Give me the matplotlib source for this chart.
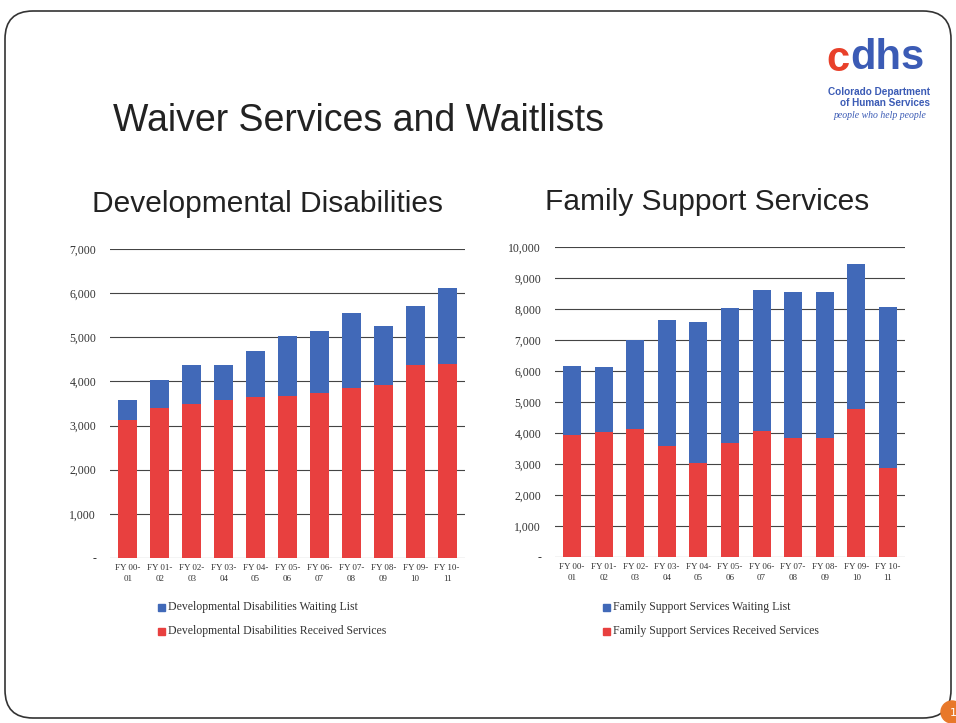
import matplotlib.pyplot as plt
from matplotlib.patches import FancyBboxPatch, Circle, Rectangle

# ---- data ----
fy_labels = ["FY 00-\n01", "FY 01-\n02", "FY 02-\n03", "FY 03-\n04", "FY 04-\n05", "FY 05-\n06",
             "FY 06-\n07", "FY 07-\n08", "FY 08-\n09", "FY 09-\n10", "FY 10-\n11"]

dd_received = [3130, 3390, 3500, 3590, 3640, 3660, 3730, 3840, 3910, 4380, 4390]
dd_total = [3590, 4040, 4380, 4380, 4680, 5020, 5140, 5540, 5250, 5710, 6110]
dd_waiting = [t - r for t, r in zip(dd_total, dd_received)]

fss_received = [3940, 4030, 4130, 3580, 3030, 3680, 4070, 3840, 3840, 4770, 2870]
fss_total = [6160, 6130, 7000, 7650, 7590, 8030, 8610, 8560, 8540, 9450, 8070]
fss_waiting = [t - r for t, r in zip(fss_total, fss_received)]

BLUE = "#4169B8"
RED = "#E8403F"
serif = "Liberation Serif"
sans = "Liberation Sans"

fig = plt.figure(figsize=(9.56, 7.23), dpi=100)

# slide background / border drawn in pixel space
bg = fig.add_axes([0, 0, 1, 1])
bg.set_xlim(0, 956)
bg.set_ylim(723, 0)
bg.axis("off")
bg.add_patch(FancyBboxPatch((5, 11), 946, 707, boxstyle="round,pad=0,rounding_size=28",
                            fill=False, edgecolor="#333333", linewidth=1.2))
bg.add_patch(Circle((952, 712), 11, color="#E8782A", zorder=3))
bg.text(953, 713, "1", color="white", fontsize=8, ha="center", va="center", zorder=4)

# titles
bg.text(113, 121, "Waiver Services and Waitlists", fontsize=27, family=sans,
        color="#222222", va="center", ha="left")
bg.text(92, 204, "Developmental Disabilities", fontsize=21.5, family=sans,
        color="#222222", va="center", ha="left")
bg.text(545, 202, "Family Support Services", fontsize=21.5, family=sans,
        color="#222222", va="center", ha="left")

# logo
bg.text(826, 60, "c", fontsize=30, fontweight="bold", family=sans, color="#E8402A",
        va="center", ha="left")
bg.text(850, 58, "dhs", fontsize=30, fontweight="bold", family=sans, color="#3B5BB5",
        va="center", ha="left")
bg.text(930, 92, "Colorado Department", fontsize=7.2, fontweight="bold", family=sans,
        color="#3B5BB5", ha="right", va="center")
bg.text(930, 103, "of Human Services", fontsize=7.2, fontweight="bold", family=sans,
        color="#3B5BB5", ha="right", va="center")
bg.text(926, 116, "people who help people", fontsize=7, style="italic", family=serif,
        color="#3B5BB5", ha="right", va="center")


def thousands(v):
    return "-" if v == 0 else f"{v:,}"


def draw_chart(rect, received, waiting, ymax, width, xpad, legend_names, legend_x):
    ax = fig.add_axes(rect)
    x = list(range(len(fy_labels)))
    ax.bar(x, received, width=width, color=RED, zorder=2)
    ax.bar(x, waiting, width=width, bottom=received, color=BLUE, zorder=2)
    ax.set_ylim(0, ymax)
    ax.set_xlim(-xpad, len(x) - 1 + xpad)
    ticks = list(range(0, ymax + 1, 1000))
    ax.set_yticks(ticks)
    ax.set_yticklabels([thousands(t) for t in ticks], fontsize=8.5, family=serif,
                       color="#333333")
    ax.set_xticks(x)
    ax.set_xticklabels(fy_labels, fontsize=6.5, family=serif, linespacing=1.5,
                       color="#333333")
    ax.tick_params(length=0, pad=10)
    ax.tick_params(axis="x", pad=4)
    ax.yaxis.grid(True, color="#444444", linewidth=0.8, zorder=0)
    for s in ax.spines.values():
        s.set_visible(False)
    # legend
    for i, (name, col) in enumerate(zip(legend_names, [BLUE, RED])):
        y = 607 + i * 24
        bg.add_patch(Rectangle((legend_x, y - 3.5), 7, 7, color=col))
        bg.text(legend_x + 10, y, name, fontsize=8.5, family=serif, color="#333333",
                va="center", ha="left")
    return ax


draw_chart([110 / 956, 1 - 558 / 723, 355 / 956, 309 / 723], dd_received, dd_waiting,
           7000, 0.59, 0.56,
           ["Developmental Disabilities Waiting List",
            "Developmental Disabilities Received Services"], 158)
draw_chart([555 / 956, 1 - 557 / 723, 350 / 956, 310 / 723], fss_received, fss_waiting,
           10000, 0.57, 0.54,
           ["Family Support Services Waiting List",
            "Family Support Services Received Services"], 603)

fig.savefig("out.png", dpi=100)
